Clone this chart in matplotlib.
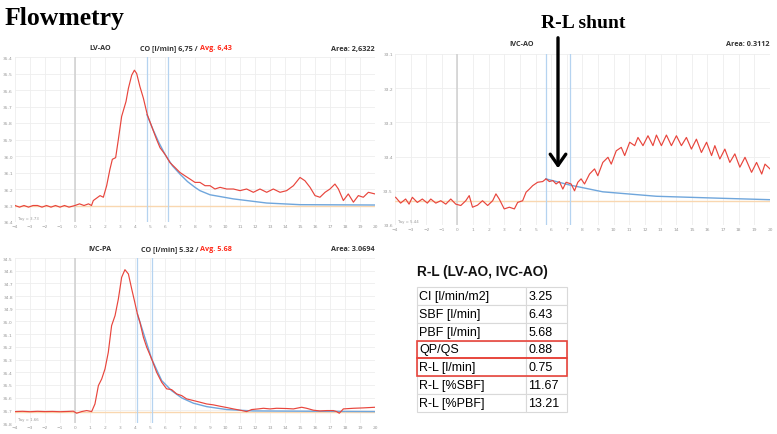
import numpy as np
import matplotlib
matplotlib.use("Agg")
import matplotlib.pyplot as plt
from matplotlib.patches import Rectangle, FancyArrowPatch

# ---- data (time in s, temperature in degC) ----
# LV-AO
lvao_t = [-4.0, -3.7, -3.4, -3.1, -2.8, -2.5, -2.2, -1.9, -1.6, -1.3, -1.0, -0.7, -0.4,
          0.0, 0.3, 0.6, 0.9, 1.1, 1.22, 1.67, 1.89, 2.11, 2.33, 2.49, 2.71, 2.89, 3.11,
          3.40, 3.56, 3.78, 3.96, 4.11, 4.33, 4.56, 4.82, 5.11, 5.44, 5.67, 6.0, 6.33,
          6.67, 7.0, 7.33, 7.67, 8.0, 8.33, 8.67, 9.0, 9.33, 9.67, 10.11, 10.56, 11.0,
          11.44, 11.89, 12.33, 12.78, 13.22, 13.67, 14.11, 14.56, 15.0, 15.33, 15.67,
          16.0, 16.33, 16.67, 17.0, 17.33, 17.56, 17.89, 18.22, 18.56, 18.89, 19.22,
          19.56, 20.0]
lvao_v = [36.30, 36.31, 36.30, 36.31, 36.30, 36.30, 36.31, 36.30, 36.31, 36.30, 36.31,
          36.30, 36.31, 36.30, 36.29, 36.30, 36.29, 36.30, 36.27, 36.24, 36.25, 36.18,
          36.08, 36.02, 36.01, 35.90, 35.76, 35.67, 35.59, 35.51, 35.48, 35.50, 35.58,
          35.65, 35.75, 35.82, 35.90, 35.95, 35.99, 36.04, 36.07, 36.10, 36.12, 36.14,
          36.16, 36.16, 36.18, 36.18, 36.20, 36.19, 36.20, 36.20, 36.21, 36.20, 36.22,
          36.20, 36.22, 36.20, 36.22, 36.21, 36.18, 36.13, 36.15, 36.19, 36.24, 36.25,
          36.22, 36.20, 36.17, 36.20, 36.27, 36.23, 36.28, 36.24, 36.25, 36.22, 36.23]
lvao_fit_t = [4.8, 5.2, 5.6, 6.0, 6.5, 7.0, 7.5, 8.0, 8.33, 9.0, 10.56, 12.78, 15.0, 20.0]
lvao_fit_v = [35.75, 35.84, 35.92, 35.99, 36.06, 36.11, 36.155, 36.19, 36.21, 36.235,
              36.26, 36.285, 36.295, 36.297]

# IVC-AO
ivcao_t = [-3.96, -3.64, -3.32, -3.10, -2.89, -2.57, -2.25, -1.93, -1.71, -1.39, -1.07,
           -0.75, -0.43, -0.11, 0.21, 0.53, 0.75, 0.96, 1.28, 1.60, 1.93, 2.25, 2.46,
           2.67, 2.99, 3.32, 3.64, 3.85, 4.17, 4.39, 4.60, 4.81, 5.13, 5.45, 5.67, 5.88,
           6.10, 6.31, 6.52, 6.74, 6.95, 7.27, 7.49, 7.70, 7.91, 8.13, 8.45, 8.77, 8.98,
           9.30, 9.63, 9.84, 10.16, 10.48, 10.70, 11.02, 11.34, 11.55, 11.87, 12.19,
           12.51, 12.73, 13.05, 13.37, 13.69, 14.01, 14.33, 14.65, 14.97, 15.29, 15.61,
           15.94, 16.26, 16.47, 16.79, 17.11, 17.43, 17.75, 18.07, 18.40, 18.82, 19.14,
           19.47, 19.68, 20.0]
ivcao_v = [33.519, 33.536, 33.524, 33.539, 33.519, 33.534, 33.524, 33.536, 33.524,
           33.536, 33.529, 33.539, 33.524, 33.539, 33.543, 33.529, 33.514, 33.548,
           33.542, 33.529, 33.543, 33.529, 33.509, 33.524, 33.553, 33.548, 33.553,
           33.534, 33.529, 33.504, 33.495, 33.485, 33.475, 33.473, 33.465, 33.473,
           33.470, 33.480, 33.473, 33.495, 33.475, 33.480, 33.500, 33.475, 33.465,
           33.480, 33.451, 33.436, 33.456, 33.417, 33.402, 33.422, 33.383, 33.373,
           33.397, 33.358, 33.368, 33.344, 33.368, 33.339, 33.368, 33.337, 33.368,
           33.337, 33.368, 33.339, 33.368, 33.344, 33.378, 33.349, 33.388, 33.358,
           33.397, 33.368, 33.407, 33.378, 33.417, 33.392, 33.431, 33.402, 33.446,
           33.417, 33.451, 33.422, 33.436]
ivcao_fit_t = [5.65, 7.17, 9.30, 12.73, 17.0, 20.0]
ivcao_fit_v = [33.465, 33.483, 33.503, 33.516, 33.522, 33.526]

# IVC-PA
ivcpa_t = [-4.0, -3.5, -3.0, -2.5, -2.0, -1.5, -1.0, -0.5, -0.11, 0.11, 0.44, 0.78,
           1.11, 1.33, 1.56, 1.78, 2.0, 2.22, 2.44, 2.67, 2.89, 3.11, 3.33, 3.56, 3.78,
           3.96, 4.16, 4.33, 4.56, 4.78, 5.11, 5.44, 5.78, 6.11, 6.44, 6.78, 7.11, 7.44,
           7.89, 8.33, 8.78, 9.22, 9.67, 10.11, 10.56, 11.0, 11.44, 11.78, 12.22, 12.56,
           13.0, 13.44, 14.11, 14.56, 15.11, 15.44, 15.89, 16.33, 16.78, 17.22, 17.44,
           17.62, 17.89, 18.56, 19.22, 20.0]
ivcpa_v = [35.710, 35.708, 35.711, 35.708, 35.710, 35.709, 35.711, 35.709, 35.707,
           35.723, 35.710, 35.702, 35.710, 35.650, 35.505, 35.453, 35.374, 35.243,
           35.033, 34.954, 34.823, 34.652, 34.592, 34.626, 34.744, 34.836, 34.941,
           35.007, 35.125, 35.203, 35.295, 35.400, 35.479, 35.531, 35.537, 35.571,
           35.584, 35.610, 35.623, 35.636, 35.650, 35.657, 35.668, 35.678, 35.689,
           35.699, 35.710, 35.694, 35.689, 35.684, 35.689, 35.684, 35.686, 35.689,
           35.676, 35.684, 35.699, 35.705, 35.702, 35.702, 35.710, 35.723, 35.689,
           35.684, 35.681, 35.676]
ivcpa_fit_t = [4.16, 5.11, 5.78, 6.44, 7.11, 7.89, 8.78, 10.11, 11.89, 20.0]
ivcpa_fit_v = [34.941, 35.295, 35.466, 35.545, 35.602, 35.644, 35.671, 35.694, 35.705,
               35.710]

table_rows = ["CI [l/min/m2]", "SBF [l/min]", "PBF [l/min]", "QP/QS", "R-L [l/min]",
              "R-L [%SBF]", "R-L [%PBF]"]
table_vals = ["3.25", "6.43", "5.68", "0.88", "0.75", "11.67", "13.21"]
highlight_rows = [3, 4]

RED = "#e8453c"
BLUE = "#6fa6dc"
VBLUE = "#b5d3f0"
ORANGE = "#f9d7b0"

W, H = 777, 435
fig = plt.figure(figsize=(W / 100, H / 100), dpi=100)


def fpos(x, y):
    return x / W, 1 - y / H


def panel(box, t, v, ft, fv, base, yticks, marks, tau):
    l, t_, r, b = box
    ax = fig.add_axes([l / W, 1 - b / H, (r - l) / W, (b - t_) / H])
    ax.set_xlim(-4, 20)
    ax.set_ylim(yticks[-1], yticks[0])
    ax.set_xticks(range(-4, 21))
    ax.set_yticks(yticks)
    ax.set_yticklabels(["%.1f" % y for y in yticks])
    ax.tick_params(length=0, labelsize=3.2, labelcolor="#999999", pad=1.5)
    ax.grid(True, color="#eeeeee", lw=0.6)
    for s in ax.spines.values():
        s.set_visible(False)
    ax.axhline(base, color=ORANGE, lw=1.0)
    ax.axvline(0, color="#cfcfcf", lw=1.1)
    for m in marks:
        ax.axvline(m, color=VBLUE, lw=0.9)
    ax.plot(ft, fv, color=BLUE, lw=1.0)
    ax.plot(t, v, color=RED, lw=0.85, solid_joinstyle="round")
    ax.text(0.008, 0.02, "Tay = " + tau, transform=ax.transAxes, fontsize=2.8,
            color="#999999")
    return ax


hdr = dict(fontsize=5.2, fontweight="bold", color="#333333", va="center",
           family="Open Sans")

ax1 = panel((15, 58, 375, 223), lvao_t, lvao_v, lvao_fit_t, lvao_fit_v, 36.30,
            [round(35.4 + 0.1 * i, 1) for i in range(11)], [4.8, 6.2], "3.73")
fig.text(*fpos(100, 49), "LV-AO", ha="center", **hdr)
co1 = fig.text(*fpos(140, 49), "CO [l/min] 6,75 / ", ha="left", **hdr)
ax1.annotate("Avg. 6,43", xy=(1, 0.5), xycoords=co1, ha="left",
             **dict(hdr, color="#ff2a1a"))
fig.text(*fpos(375, 49), "Area: 2,6322", ha="right", **hdr)

ax2 = panel((395, 55, 770, 226), ivcao_t, ivcao_v, ivcao_fit_t, ivcao_fit_v, 33.529,
            [round(33.1 + 0.1 * i, 1) for i in range(6)], [5.65, 7.19], "5.44")
fig.text(*fpos(522, 45), "IVC-AO", ha="center", **hdr)
fig.text(*fpos(770, 45), "Area: 0.3112", ha="right", **hdr)

ax3 = panel((15, 259, 375, 424), ivcpa_t, ivcpa_v, ivcpa_fit_t, ivcpa_fit_v, 35.710,
            [round(34.5 + 0.1 * i, 1) for i in range(14)], [4.16, 5.16], "1.66")
fig.text(*fpos(100, 250), "IVC-PA", ha="center", **hdr)
co3 = fig.text(*fpos(141, 250), "CO [l/min] 5.32 / ", ha="left", **hdr)
ax3.annotate("Avg. 5.68", xy=(1, 0.5), xycoords=co3, ha="left",
             **dict(hdr, color="#ff2a1a"))
fig.text(*fpos(375, 250), "Area: 3.0694", ha="right", **hdr)

# titles and arrow
fig.text(*fpos(5, 18), "Flowmetry", fontsize=18.5, fontweight="bold",
         family="Liberation Serif", va="center", ha="left")
fig.text(*fpos(583, 24), "R-L shunt", fontsize=14, fontweight="bold",
         family="Liberation Serif", va="center", ha="center")
fig.add_artist(FancyArrowPatch(
    fpos(558, 36), fpos(558, 172), transform=fig.transFigure,
    arrowstyle="->,head_length=5,head_width=3.5", lw=2.4, color="black",
    mutation_scale=1.6))

# table
fig.text(*fpos(417, 272), "R-L (LV-AO, IVC-AO)", fontsize=9.8, fontweight="bold",
         family="Liberation Sans", va="center", ha="left", color="#111111")
tax = fig.add_axes([417 / W, 1 - 413 / H, 150 / W, 125 / H])
tax.axis("off")
tb = tax.table(cellText=[[a, b] for a, b in zip(table_rows, table_vals)],
               colWidths=[109 / 150, 41 / 150], bbox=[0, 0, 1, 1], cellLoc="left")
tb.auto_set_font_size(False)
for (r, c), cell in tb.get_celld().items():
    cell.set_edgecolor("#d9d9d9")
    cell.set_linewidth(0.8)
    cell.PAD = 0.02 if c == 0 else 0.06
    cell.get_text().set_fontsize(9.0)
    cell.get_text().set_family("Liberation Sans")
n = len(table_rows)
for r in highlight_rows:
    tax.add_patch(Rectangle((0, 1 - (r + 1) / n), 1, 1 / n, transform=tax.transAxes,
                            fill=False, ec=RED, lw=1.2, clip_on=False, zorder=5))

fig.savefig("out.png", dpi=100)
